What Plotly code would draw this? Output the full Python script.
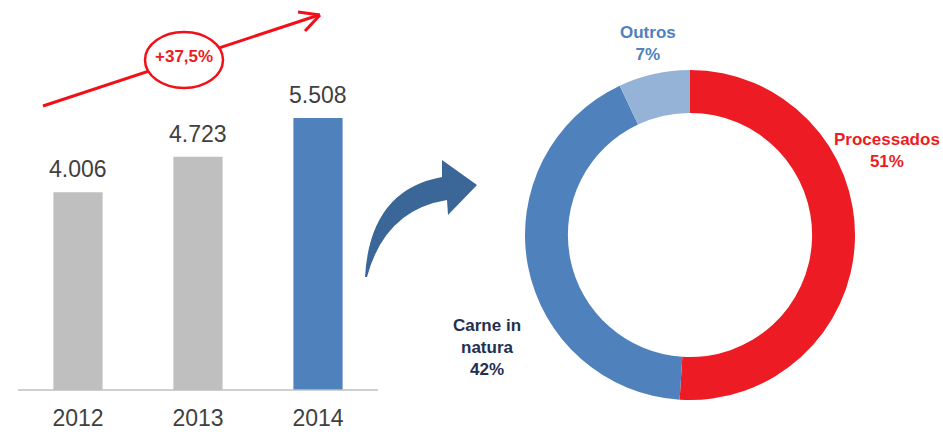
import plotly.graph_objects as go

years = ["2012", "2013", "2014"]
volumes = [4006, 4723, 5508]
bar_colors = ["#BFBFBF", "#BFBFBF", "#4F81BD"]

seg_labels = ["Processados", "Carne in natura", "Outros"]
seg_values = [51, 42, 7]
seg_colors = ["#ED1C24", "#4F81BD", "#95B3D7"]
growth_label = "+37,5%"

FONT = "Liberation Sans Narrow, Arial Narrow, Liberation Sans, Arial, sans-serif"
W, H = 943, 434

fig = go.Figure()

fig.add_trace(go.Bar(
    x=years, y=volumes, marker=dict(color=bar_colors, line=dict(width=0)),
    width=0.41, xaxis="x", yaxis="y", showlegend=False, hoverinfo="skip",
    cliponaxis=False,
))

fig.add_trace(go.Scatter(x=[0], y=[0], xaxis="x3", yaxis="y3", mode="markers",
                         marker=dict(opacity=0), showlegend=False, hoverinfo="skip"))

fig.add_trace(go.Pie(
    labels=seg_labels, values=seg_values, hole=0.74, sort=False,
    direction="clockwise", rotation=0,
    marker=dict(colors=seg_colors, line=dict(width=0)),
    textinfo="none", showlegend=False, hoverinfo="skip",
    domain=dict(x=[525 / W, 855 / W], y=[34 / H, 364 / H]),
))

annotations = []
for i, v in enumerate(volumes):
    annotations.append(dict(
        x=i, y=v, xref="x", yref="y", text=f"{v:,}".replace(",", "."),
        showarrow=False, yanchor="bottom", yshift=8,
        font=dict(family=FONT, size=23, color="#404040"),
    ))

lab_pos = {
    "Processados": (887, 150, "#ED1C24"),
    "Carne in natura": (487, 347, "#1F3050"),
    "Outros": (648, 43, "#4F81BD"),
}
for lab, val in zip(seg_labels, seg_values):
    px, py, col = lab_pos[lab]
    txt = "Carne in<br>natura" if lab == "Carne in natura" else lab
    annotations.append(dict(
        x=px, y=py, xref="x3", yref="y3", text=f"<b>{txt}<br>{val}%</b>",
        showarrow=False, font=dict(family=FONT, size=17, color=col),
        align="center",
    ))

annotations.append(dict(
    x=184, y=56, xref="x3", yref="y3", text=f"<b>{growth_label}</b>",
    showarrow=False, font=dict(family=FONT, size=17, color="#ED1C24"),
))

red = "#F21018"
shapes = [
    dict(type="line", xref="x3", yref="y3", x0=43, y0=106, x1=319, y1=15,
         line=dict(color=red, width=3), layer="above"),
    dict(type="line", xref="x3", yref="y3", x0=298, y0=12, x1=320, y1=15,
         line=dict(color=red, width=3), layer="above"),
    dict(type="line", xref="x3", yref="y3", x0=305, y0=31, x1=320, y1=15,
         line=dict(color=red, width=3), layer="above"),
    dict(type="circle", xref="x3", yref="y3", x0=145, y0=32, x1=223, y1=88,
         line=dict(color=red, width=2.5), fillcolor="white", layer="above"),
    dict(type="path", xref="x3", yref="y3",
         path="M 365,277 Q 370,190 442,177 L 442,160 L 477,185 L 448,215 L 447,200 Q 385,210 367,277 Z",
         fillcolor="#3A6698", line=dict(width=0), layer="above"),
    dict(type="line", xref="x3", yref="y3", x0=18, y0=390, x1=378, y1=390,
         line=dict(color="#BFBFBF", width=1.5), layer="above"),
]

fig.update_layout(
    width=W, height=H, margin=dict(l=0, r=0, t=0, b=0, pad=0, autoexpand=False),
    paper_bgcolor="white", plot_bgcolor="rgba(0,0,0,0)",
    separators=",.",
    xaxis=dict(domain=[18 / W, 378 / W], anchor="y", type="category",
               range=[-0.5, 2.5], showgrid=False, zeroline=False, automargin=False,
               showline=False, ticks="", ticklabelstandoff=12,
               tickfont=dict(family=FONT, size=23, color="#404040")),
    yaxis=dict(domain=[44 / H, 1], anchor="x", range=[0, 390 / 0.04938], visible=False,
               showgrid=False, zeroline=False, automargin=False),
    xaxis3=dict(domain=[0, 1], range=[0, W], visible=False, anchor="y3",
                showgrid=False, zeroline=False, automargin=False),
    yaxis3=dict(domain=[0, 1], range=[H, 0], visible=False, anchor="x3",
                showgrid=False, zeroline=False, automargin=False),
    annotations=annotations, shapes=shapes,
)

fig.write_html("out.html", config={"displayModeBar": False},
               post_script="document.body.style.margin='0';")
